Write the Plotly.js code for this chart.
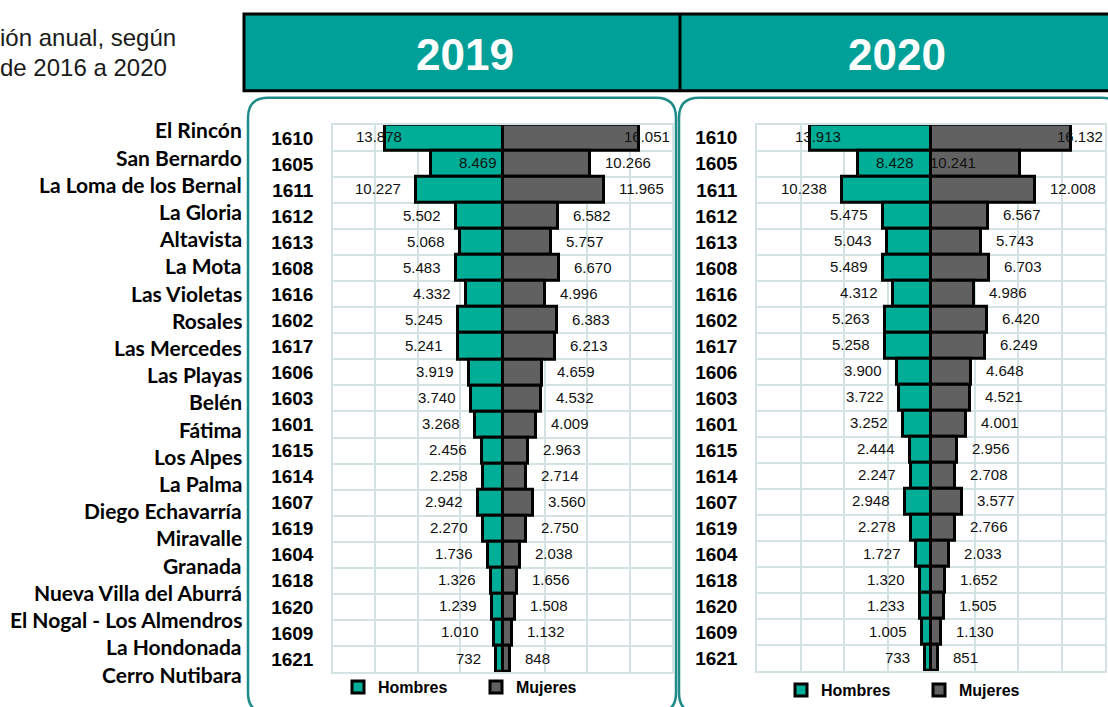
<!DOCTYPE html>
<html>
<head>
<meta charset="utf-8">
<script src="https://cdn.plot.ly/plotly-3.0.1.min.js"></script>
<style>
  html, body { margin: 0; padding: 0; background: #ffffff; }
  #chart { width: 1108px; height: 707px; }
</style>
</head>
<body>
<div id="chart"></div>
<script>
// ---------------- DATA ----------------
const codes = ["1610","1605","1611","1612","1613","1608","1616","1602","1617","1606","1603","1601","1615","1614","1607","1619","1604","1618","1620","1609","1621"];
const barrios = ["El Rincón","San Bernardo","La Loma de los Bernal","La Gloria","Altavista","La Mota","Las Violetas","Rosales","Las Mercedes","Las Playas","Belén","Fátima","Los Alpes","La Palma","Diego Echavarría","Miravalle","Granada","Nueva Villa del Aburrá","El Nogal - Los Almendros","La Hondonada","Cerro Nutibara"];
const hombres2019 = [13878,8469,10227,5502,5068,5483,4332,5245,5241,3919,3740,3268,2456,2258,2942,2270,1736,1326,1239,1010,732];
const mujeres2019 = [16051,10266,11965,6582,5757,6670,4996,6383,6213,4659,4532,4009,2963,2714,3560,2750,2038,1656,1508,1132,848];
const hombres2020 = [13913,8428,10238,5475,5043,5489,4312,5263,5258,3900,3722,3252,2444,2247,2948,2278,1727,1320,1233,1005,733];
const mujeres2020 = [16132,10241,12008,6567,5743,6703,4986,6420,6249,4648,4521,4001,2956,2708,3577,2766,2033,1652,1505,1130,851];
const years = ["2019","2020"];
const seriesNames = ["Hombres","Mujeres"];
const titleLines = ["ión anual, según","de 2016 a 2020"];

// ---------------- STYLE / LAYOUT ----------------
const W = 1108, H = 707;
const PX = v => v / W;
const PY = v => 1 - v / H;

const C_H = "#00AE98";
const C_M = "#616161";
const C_HEADER = "#009F97";
const C_PANEL = "#1E8B89";
const C_GRID = "#D3E3E3";
const FONT_ARIAL = "Liberation Sans, Arial, sans-serif";
const FONT_NAMES = "Lato, Carlito, Calibri, sans-serif";

const fmt = v => String(v).replace(/\B(?=(\d{3})+(?!\d))/g, ".");

// panel geometry (pixels)
const panels = [
  {plot:[333,672,125,673], xa:"x", ya:"y", header:465, legH:378, legM:516, legY:687},
  {plot:[757,1105,125,672], xa:"x2", ya:"y2", header:897, legH:821, legM:959, legY:691}
];

// label exceptions (as in the original chart)
const labelOverrides = {
  "0|H|0": {mode:"bar", xanchor:"center", xshift:-6},
  "0|M|0": {mode:"edge"},
  "0|H|1": {mode:"zero", xanchor:"right", xshift:-4},
  "1|H|0": {mode:"bar", xanchor:"center", xshift:8},
  "1|M|0": {mode:"edge"},
  "1|H|1": {mode:"zero", xanchor:"right", xshift:-15},
  "1|M|1": {mode:"zero", xanchor:"left", xshift:-3}
};

const dataH = [hombres2019, hombres2020];
const dataM = [mujeres2019, mujeres2020];

const traces = [];
const annotations = [];
const layout = {
  width: W, height: H,
  margin: {l:0, r:0, t:0, b:0},
  paper_bgcolor: "#ffffff",
  plot_bgcolor: "#ffffff",
  barmode: "overlay",
  bargap: 0,
  showlegend: true,
  font: {family: FONT_ARIAL, color: "#000"},
  shapes: [],
  annotations: annotations
};

const legendNames = ["legend","legend2","legend3","legend4"];

panels.forEach((p, k) => {
  const xAxisKey = k === 0 ? "xaxis" : "xaxis2";
  const yAxisKey = k === 0 ? "yaxis" : "yaxis2";
  const [x0, x1, y0, y1] = p.plot;
  layout[xAxisKey] = {
    domain: [PX(x0), PX(x1)],
    anchor: p.ya,
    range: [-20000, 20000],
    tickmode: "array",
    tickvals: [-20000,-15000,-10000,-5000,0,5000,10000,15000,20000],
    showticklabels: false,
    ticks: "",
    showgrid: true, gridcolor: C_GRID, gridwidth: 1.5,
    zeroline: false,
    showline: true, mirror: true, linecolor: C_GRID, linewidth: 1.5,
    fixedrange: true
  };
  layout[yAxisKey] = {
    domain: [PY(y1), PY(y0)],
    anchor: p.xa,
    type: "category",
    categoryorder: "array",
    categoryarray: codes,
    range: [codes.length - 0.5, -0.5],
    tickson: "boundaries",
    ticks: "",
    ticklabelstandoff: 14,
    tickfont: {family: FONT_ARIAL, size: 19, weight: "bold", color: "#000"},
    showgrid: true, gridcolor: C_GRID, gridwidth: 1.5,
    zeroline: false,
    showline: true, mirror: true, linecolor: C_GRID, linewidth: 1.5,
    fixedrange: true
  };

  const hv = dataH[k], mv = dataM[k];
  traces.push({
    type: "bar", orientation: "h", name: seriesNames[0],
    x: hv.map(v => -v), y: codes, width: 1,
    xaxis: p.xa, yaxis: p.ya,
    marker: {color: C_H, line: {color: "#000", width: 3}},
    legend: legendNames[k*2],
    hovertemplate: "%{y}: %{customdata}<extra>Hombres " + years[k] + "</extra>",
    customdata: hv.map(fmt)
  });
  traces.push({
    type: "bar", orientation: "h", name: seriesNames[1],
    x: mv, y: codes, width: 1,
    xaxis: p.xa, yaxis: p.ya,
    marker: {color: C_M, line: {color: "#000", width: 3}},
    legend: legendNames[k*2+1],
    hovertemplate: "%{y}: %{customdata}<extra>Mujeres " + years[k] + "</extra>",
    customdata: mv.map(fmt)
  });

  // data labels
  const addLabel = (side, i, v) => {
    const key = k + "|" + side + "|" + i;
    const o = labelOverrides[key];
    const sign = side === "H" ? -1 : 1;
    let a = {
      xref: p.xa, yref: p.ya, y: i, yshift: 1,
      text: fmt(v), showarrow: false,
      font: {family: FONT_ARIAL, size: 15, color: "#111"},
      xanchor: side === "H" ? "right" : "left",
      x: sign * v, xshift: sign * 13
    };
    if (o) {
      if (o.mode === "bar") { a.x = sign * v; a.xanchor = o.xanchor; a.xshift = o.xshift; }
      else if (o.mode === "edge") { a.x = sign * 20000; a.xanchor = side === "H" ? "left" : "right"; a.xshift = 0; }
      else if (o.mode === "zero") { a.x = 0; a.xanchor = o.xanchor; a.xshift = o.xshift; }
    }
    annotations.push(a);
  };
  hv.forEach((v, i) => addLabel("H", i, v));
  mv.forEach((v, i) => addLabel("M", i, v));

  // year header text
  annotations.push({
    xref: "paper", yref: "paper", x: PX(p.header), y: PY(55),
    xanchor: "center", yanchor: "middle", showarrow: false,
    text: years[k],
    font: {family: "Liberation Sans Narrow, Arial Narrow, Liberation Sans, Arial", size: 44, weight: "bold", color: "#ffffff"}
  });

  // legends (one per series, per panel)
  layout[legendNames[k*2]] = {
    orientation: "h", x: PX(p.legH - 40), y: PY(p.legY), xanchor: "left", yanchor: "middle",
    bgcolor: "rgba(0,0,0,0)", borderwidth: 0,
    font: {family: FONT_ARIAL, size: 16, weight: "bold", color: "#000"}
  };
  layout[legendNames[k*2+1]] = {
    orientation: "h", x: PX(p.legM - 40), y: PY(p.legY), xanchor: "left", yanchor: "middle",
    bgcolor: "rgba(0,0,0,0)", borderwidth: 0,
    font: {family: FONT_ARIAL, size: 16, weight: "bold", color: "#000"}
  };
});

// neighbourhood names column
barrios.forEach((name, i) => {
  annotations.push({
    xref: "paper", yref: "paper", x: PX(244), y: PY(130 + i * 27.25),
    xanchor: "right", yanchor: "middle", showarrow: false,
    text: name,
    font: {family: FONT_NAMES, size: 21, weight: "bold", color: "#000"}
  });
});

// partial title at top-left
titleLines.forEach((t, i) => {
  annotations.push({
    xref: "paper", yref: "paper", x: 0, y: PY(38 + i * 30),
    xanchor: "left", yanchor: "middle", showarrow: false, xshift: -2,
    text: t,
    font: {family: FONT_ARIAL, size: 24, color: "#1a1a1a"}
  });
});

// header band
layout.shapes.push({
  type: "rect", xref: "paper", yref: "paper", layer: "below",
  x0: PX(244), x1: PX(1120), y0: PY(91), y1: PY(14),
  fillcolor: C_HEADER, line: {color: "#000", width: 3}
});
layout.shapes.push({
  type: "line", xref: "paper", yref: "paper",
  x0: PX(680), x1: PX(680), y0: PY(91), y1: PY(14),
  line: {color: "#000", width: 3}
});

// rounded panels
function roundedRect(x0, y0, x1, y1, r) {
  const P = (x, y) => PX(x) + "," + PY(y);
  return "M" + P(x0 + r, y0) +
    " L" + P(x1 - r, y0) + " Q" + P(x1, y0) + " " + P(x1, y0 + r) +
    " L" + P(x1, y1 - r) + " Q" + P(x1, y1) + " " + P(x1 - r, y1) +
    " L" + P(x0 + r, y1) + " Q" + P(x0, y1) + " " + P(x0, y1 - r) +
    " L" + P(x0, y0 + r) + " Q" + P(x0, y0) + " " + P(x0 + r, y0) + " Z";
}
layout.shapes.push({
  type: "path", xref: "paper", yref: "paper", layer: "below",
  path: roundedRect(248, 98, 676, 714, 20),
  line: {color: C_PANEL, width: 2.5}, fillcolor: "rgba(0,0,0,0)"
});
layout.shapes.push({
  type: "path", xref: "paper", yref: "paper", layer: "below",
  path: roundedRect(679, 98, 1122, 714, 20),
  line: {color: C_PANEL, width: 2.5}, fillcolor: "rgba(0,0,0,0)"
});

Plotly.newPlot("chart", traces, layout, {displayModeBar: false});
</script>
</body>
</html>
